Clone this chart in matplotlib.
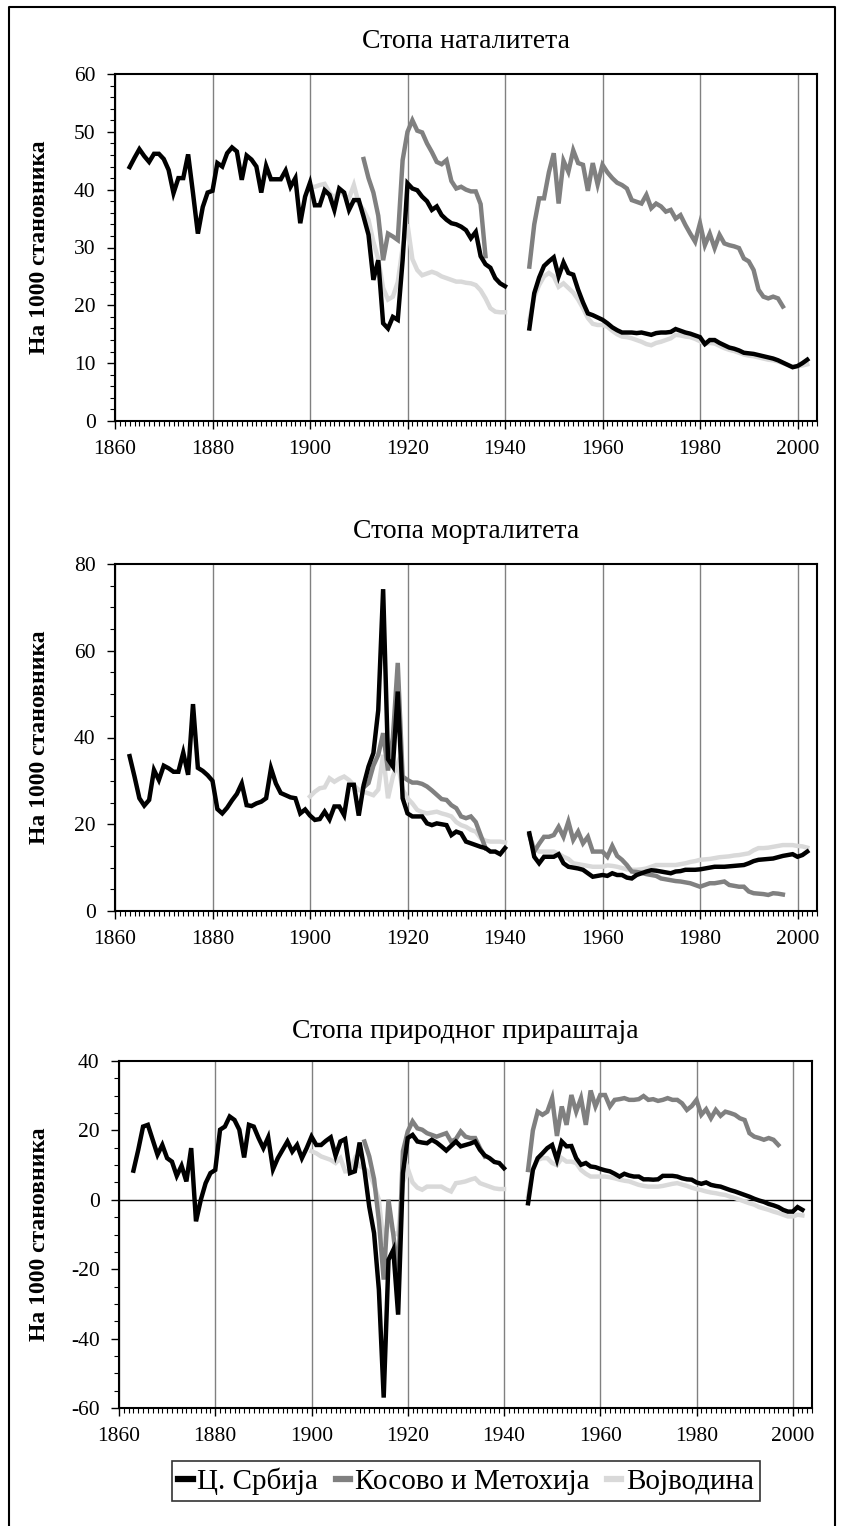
import matplotlib.pyplot as plt
from matplotlib.lines import Line2D
from matplotlib.ticker import MultipleLocator

plt.rcParams['font.family'] = ['Liberation Serif', 'DejaVu Serif']
plt.rcParams['axes.unicode_minus'] = False

regions = ['Ц. Србија', 'Косово и Метохија', 'Војводина']
colors = ['#000000', '#808080', '#d9d9d9']
titles = ['Стопа наталитета', 'Стопа морталитета', 'Стопа природног прираштаја']
ylabel = 'На 1000 становника'

# year spans of each series (gap during WW2)
yrs_srb_a = list(range(1863, 1941))
yrs_kos_a = list(range(1911, 1937))
yrs_voj_a = list(range(1900, 1941))
yrs_srb_b = list(range(1945, 2003))
yrs_kos_b = list(range(1945, 1998))
yrs_voj_b = list(range(1945, 2003))

# birth rate
birth_srb_a = [43.9, 45.5, 47.0, 45.8, 44.8, 46.2, 46.2, 45.3, 43.4, 39.4,
               42.0, 42.0, 46.1, 39.4, 32.4, 37.0, 39.5, 39.8, 44.6, 44.0,
               46.3, 47.3, 46.6, 41.7, 45.9, 45.2, 44.0, 39.5, 44.1, 41.8,
               41.8, 41.8, 43.3, 40.5, 42.0, 34.2, 38.8, 41.2, 37.3, 37.3,
               39.9, 39.1, 36.5, 40.2, 39.5, 36.5, 38.2, 38.2, 35.3, 32.2,
               24.4, 27.8, 16.9, 16.0, 18.0, 17.5, 27.8, 41.1, 40.2, 39.9,
               38.8, 38.0, 36.5, 37.1, 35.6, 34.8, 34.2, 34.0, 33.6, 33.0,
               31.6, 32.7, 28.5, 27.1, 26.5, 24.7, 23.8, 23.3]
birth_srb_b = [16.0, 22.1, 24.8, 26.8, 27.6, 28.3, 25.0, 27.4, 25.6, 25.3,
               22.7, 20.5, 18.6, 18.3, 17.9, 17.5, 16.9, 16.2, 15.7, 15.3,
               15.3, 15.3, 15.2, 15.3, 15.1, 14.9, 15.2, 15.3, 15.3, 15.4,
               15.9, 15.6, 15.3, 15.1, 14.8, 14.5, 13.3, 14.0, 14.0, 13.5,
               13.1, 12.7, 12.5, 12.2, 11.8, 11.7, 11.6, 11.4, 11.2, 11.0,
               10.8, 10.5, 10.1, 9.7, 9.3, 9.5, 10.0, 10.6]
birth_kos_a = [45.3, 42.0, 39.5, 35.5, 27.8, 32.4, 31.9, 31.3, 45.1, 50.0,
               52.0, 50.2, 49.9, 48.0, 46.5, 44.8, 44.4, 45.1, 41.5, 40.2,
               40.5, 40.0, 39.7, 39.7, 37.5, 28.5]
birth_kos_b = [26.7, 34.0, 38.5, 38.5, 43.0, 46.3, 37.6, 45.0, 43.1, 46.8,
               44.6, 44.3, 39.8, 44.6, 40.9, 44.3, 43.0, 42.0, 41.2, 40.8,
               40.2, 38.2, 37.9, 37.6, 39.1, 36.8, 37.6, 37.1, 36.2, 36.5,
               35.0, 35.6, 33.9, 32.4, 31.0, 34.2, 30.4, 32.4, 29.9, 32.2,
               30.7, 30.4, 30.2, 29.9, 28.1, 27.6, 26.1, 22.7, 21.5, 21.2,
               21.5, 21.2, 19.8]
birth_voj_a = [40.5, 40.5, 40.8, 41.0, 39.5, 38.5, 40.0, 39.0, 38.5, 40.8,
               37.6, 36.5, 34.8, 31.0, 28.0, 23.0, 21.0, 21.5, 24.0, 30.0,
               34.0, 28.0, 26.1, 25.2, 25.5, 25.8, 25.5, 25.0, 24.7, 24.4,
               24.1, 24.1, 23.9, 23.8, 23.5, 22.6, 21.2, 19.5, 18.9, 18.8,
               18.8]
birth_voj_b = [17.5, 21.5, 23.5, 25.0, 25.6, 25.0, 23.2, 23.8, 23.0, 22.2,
               21.0, 19.5, 17.8, 16.8, 16.6, 16.6, 16.3, 15.6, 15.0, 14.6,
               14.5, 14.3, 14.0, 13.7, 13.3, 13.1, 13.5, 13.7, 14.0, 14.3,
               14.9, 14.8, 14.6, 14.5, 14.2, 13.8, 13.3, 13.5, 13.4, 13.0,
               12.6, 12.3, 12.1, 11.8, 11.5, 11.3, 11.2, 11.0, 10.8, 10.6,
               10.5, 10.3, 10.0, 9.7, 9.4, 9.5, 9.6, 9.8]

# death rate
death_srb_a = [35.7, 31.0, 26.0, 24.3, 25.6, 32.5, 30.2, 33.5, 32.9, 32.1,
               32.1, 36.5, 31.4, 47.7, 33.0, 32.3, 31.3, 30.0, 23.5, 22.5,
               23.8, 25.5, 27.0, 29.4, 24.4, 24.2, 24.8, 25.2, 26.0, 32.9,
               29.4, 27.2, 26.7, 26.2, 26.0, 22.5, 23.4, 22.0, 21.0, 21.2,
               22.9, 21.1, 24.1, 24.1, 22.1, 29.1, 29.1, 22.0, 29.0, 33.3,
               36.4, 46.3, 74.2, 35.0, 33.3, 50.6, 26.0, 22.5, 21.8, 21.8,
               21.8, 20.2, 19.8, 20.2, 20.0, 19.8, 17.5, 18.3, 17.9, 16.0,
               15.6, 15.2, 14.8, 14.5, 13.7, 13.7, 13.1, 14.5]
death_srb_b = [17.9, 12.5, 11.0, 12.5, 12.5, 12.5, 13.1, 11.0, 10.2, 10.0,
               9.8, 9.5, 8.7, 7.9, 8.1, 8.3, 8.1, 8.7, 8.3, 8.3,
               7.7, 7.5, 8.3, 8.7, 9.1, 9.4, 9.3, 9.1, 8.9, 8.7,
               9.1, 9.2, 9.5, 9.5, 9.5, 9.6, 9.8, 10.0, 10.2, 10.2,
               10.2, 10.3, 10.4, 10.5, 10.6, 11.0, 11.5, 11.8, 11.9, 12.0,
               12.1, 12.4, 12.7, 12.9, 13.1, 12.5, 12.9, 13.7]
death_kos_a = [28.5, 29.5, 33.5, 36.0, 41.0, 32.4, 40.0, 57.2, 31.0, 30.2,
               29.6, 29.6, 29.3, 28.7, 27.8, 26.8, 25.8, 25.6, 24.4, 23.7,
               21.8, 21.4, 21.8, 20.5, 17.5, 14.5]
death_kos_b = [17.5, 13.7, 15.5, 17.1, 17.1, 17.5, 19.4, 17.1, 20.6, 16.4,
               18.3, 15.6, 17.1, 13.7, 13.7, 13.7, 12.5, 15.0, 12.7, 11.8,
               10.6, 9.1, 9.0, 8.8, 8.5, 8.3, 8.1, 7.5, 7.3, 7.1,
               6.9, 6.8, 6.6, 6.4, 6.0, 5.6, 6.0, 6.4, 6.4, 6.6,
               6.8, 6.0, 5.8, 5.6, 5.6, 4.5, 4.1, 4.0, 3.9, 3.7,
               4.1, 4.0, 3.8]
death_voj_a = [26.4, 27.5, 28.3, 28.5, 30.6, 29.8, 30.5, 31.0, 30.2, 29.0,
               27.9, 27.5, 27.1, 26.7, 28.0, 36.0, 26.0, 31.0, 34.0, 28.0,
               26.0, 24.8, 23.3, 22.8, 22.5, 22.7, 22.9, 22.5, 22.2, 21.8,
               20.5, 19.8, 19.4, 18.7, 18.3, 16.8, 16.2, 16.0, 16.0, 16.0,
               15.8]
death_voj_b = [17.5, 14.5, 13.7, 13.7, 13.7, 13.7, 13.2, 12.5, 12.0, 11.0,
               10.8, 10.6, 10.4, 10.2, 10.2, 10.2, 10.5, 10.4, 10.2, 9.9,
               9.6, 9.5, 9.5, 9.6, 9.8, 10.2, 10.6, 10.6, 10.6, 10.6,
               10.6, 10.8, 11.0, 11.3, 11.5, 11.8, 11.9, 12.0, 12.2, 12.4,
               12.5, 12.6, 12.8, 12.9, 13.1, 13.3, 14.0, 14.5, 14.5, 14.6,
               14.8, 15.0, 15.2, 15.2, 15.2, 15.0, 14.9, 14.6]

# natural increase
ni_srb_a = [8.4, 14.4, 21.1, 21.6, 17.3, 13.0, 15.8, 12.0, 11.0, 6.9,
            9.8, 5.3, 14.9, -6.2, 0.0, 4.8, 7.7, 8.6, 20.2, 21.1,
            24.0, 23.0, 20.2, 12.2, 21.6, 21.1, 17.8, 14.9, 18.0, 8.8,
            12.0, 14.4, 16.8, 13.9, 15.8, 12.0, 14.9, 18.2, 15.8, 15.8,
            17.0, 18.0, 12.7, 16.8, 17.5, 7.7, 8.2, 16.5, 8.6, -2.0,
            -9.6, -25.9, -57.0, -17.3, -14.4, -33.1, 7.7, 17.8, 18.7, 16.8,
            16.5, 16.3, 17.3, 16.5, 15.4, 14.2, 15.5, 16.8, 15.4, 15.8,
            16.2, 16.8, 14.4, 12.8, 12.0, 10.9, 10.6, 9.1]
ni_srb_b = [-1.0, 8.6, 12.0, 13.4, 14.9, 15.8, 11.5, 16.8, 15.4, 15.5,
            12.0, 10.1, 10.6, 9.6, 9.4, 8.9, 8.5, 8.2, 7.5, 6.7,
            7.5, 7.0, 6.7, 6.7, 5.9, 5.9, 5.8, 5.9, 6.9, 6.9,
            6.9, 6.7, 6.2, 5.9, 5.8, 5.0, 4.6, 5.0, 4.3, 4.0,
            3.8, 3.3, 2.8, 2.4, 1.9, 1.4, 0.9, 0.3, -0.2, -0.6,
            -1.2, -1.6, -2.1, -2.9, -3.4, -3.4, -2.1, -2.9]
ni_kos_a = [16.8, 12.5, 6.0, -6.0, -23.0, 0.0, -10.0, -22.0, 14.0, 19.7,
            22.6, 20.6, 20.2, 19.2, 18.7, 18.2, 18.7, 19.2, 16.8, 17.5,
            19.7, 18.2, 17.8, 17.8, 14.9, 12.5]
ni_kos_b = [8.6, 20.0, 25.4, 24.5, 25.4, 29.3, 18.4, 26.9, 21.6, 30.2,
            25.4, 29.3, 21.6, 31.5, 26.9, 30.2, 30.2, 26.9, 28.8, 29.0,
            29.3, 28.8, 28.8, 29.0, 29.9, 28.8, 29.0, 28.5, 28.8, 29.3,
            28.8, 28.8, 27.8, 25.9, 27.0, 28.8, 24.5, 26.1, 23.5, 25.9,
            24.2, 25.4, 25.0, 24.5, 23.5, 23.0, 19.2, 18.2, 17.8, 17.3,
            17.8, 17.3, 15.8]
ni_voj_a = [14.0, 13.4, 12.5, 12.0, 11.5, 10.6, 12.0, 8.2, 8.3, 11.8,
            9.7, 9.0, 7.7, 4.3, 0.0, -13.0, -5.0, -9.5, -10.0, 5.0,
            9.0, 5.0, 3.5, 2.9, 3.8, 3.8, 3.8, 3.8, 3.0, 2.4,
            4.8, 5.0, 5.3, 5.8, 6.2, 4.8, 4.3, 3.8, 3.3, 3.1,
            3.1]
ni_voj_b = [1.0, 9.0, 11.5, 12.0, 12.0, 10.6, 10.0, 12.0, 11.0, 11.0,
            10.6, 8.6, 7.5, 6.7, 6.7, 6.7, 6.7, 6.5, 6.2, 5.8,
            5.5, 5.3, 4.8, 4.3, 4.0, 3.8, 3.8, 3.8, 4.0, 4.3,
            4.6, 4.8, 4.4, 4.0, 3.5, 3.1, 2.8, 2.4, 2.1, 1.9,
            1.6, 1.4, 0.9, 0.5, 0.0, -0.5, -1.0, -1.4, -2.1, -2.5,
            -2.9, -3.4, -3.8, -4.3, -4.8, -4.8, -4.3, -4.5]

panels = [
    [(birth_voj_a, birth_voj_b), (birth_kos_a, birth_kos_b), (birth_srb_a, birth_srb_b)],
    [(death_voj_a, death_voj_b), (death_kos_a, death_kos_b), (death_srb_a, death_srb_b)],
    [(ni_voj_a, ni_voj_b), (ni_kos_a, ni_kos_b), (ni_srb_a, ni_srb_b)],
]
spans = [(yrs_voj_a, yrs_voj_b), (yrs_kos_a, yrs_kos_b), (yrs_srb_a, yrs_srb_b)]
draw_colors = [colors[2], colors[1], colors[0]]
ylims = [(0, 60), (0, 80), (-60, 40)]
ymajor = [10, 20, 20]
yminor = [2, 5, 5]

W, H = 845, 1526
boxes = [(115, 74, 817, 421), (115, 564, 817, 911), (119, 1061, 812, 1408)]
title_y = [41, 531, 1031]

fig = plt.figure(figsize=(W / 100, H / 100), dpi=100)

for i in range(3):
    l, t, r, b = boxes[i]
    ax = fig.add_axes([l / W, 1 - b / H, (r - l) / W, (b - t) / H])
    for k in range(3):
        for j in range(2):
            ax.plot(spans[k][j], panels[i][k][j], color=draw_colors[k], lw=3.2,
                    solid_joinstyle='miter', zorder=3 + k)
    ax.set_xlim(1860, 2004)
    ax.set_ylim(*ylims[i])
    ax.xaxis.set_major_locator(MultipleLocator(20))
    ax.xaxis.set_minor_locator(MultipleLocator(1))
    ax.yaxis.set_major_locator(MultipleLocator(ymajor[i]))
    ax.yaxis.set_minor_locator(MultipleLocator(yminor[i]))
    ax.grid(axis='x', which='major', color='#808080', lw=1, zorder=1)
    if i == 2:
        ax.axhline(0, color='black', lw=1, zorder=2)
    for s in ax.spines.values():
        s.set_linewidth(1.5)
    ax.tick_params(which='major', direction='out', length=6, width=1, labelsize=15.5, pad=8)
    ax.tick_params(which='minor', direction='out', length=3.5, width=0.8)
    fig.text((l + r) / 2 / W, 1 - title_y[i] / H, titles[i], ha='center', va='center', fontsize=20)
    fig.text(40 / W, 1 - (t + b) / 2 / H, ylabel, rotation=90, ha='center', va='center',
             fontsize=17, fontweight='bold')

handles = [Line2D([], [], color=c, lw=4.5) for c in colors]
leg = fig.legend(handles, regions, loc='center', bbox_to_anchor=(466 / W, 1 - 1481 / H), ncol=3,
                 fontsize=21, frameon=True, fancybox=False, handlelength=0.5, handletextpad=0.15,
                 columnspacing=0.6, borderpad=0.2, borderaxespad=0)
leg.get_frame().set_edgecolor('black')
leg.get_frame().set_linewidth(1.2)

# frame around the whole figure (bottom edge is cut off in the original)
fx0, fx1, fy = 9 / W, 835 / W, 1 - 7 / H
fig.add_artist(Line2D([fx0, fx0, fx1, fx1], [0, fy, fy, 0], color='black', lw=1.5))

fig.savefig('out.png', dpi=100)
